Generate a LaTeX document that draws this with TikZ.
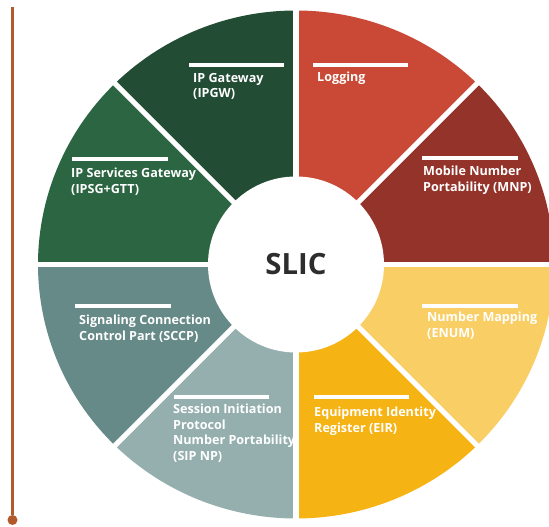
\documentclass[tikz,border=0pt]{standalone}
\usepackage{fontspec}
\setmainfont{Open Sans}
\definecolor{gwdark}{HTML}{224C34}
\definecolor{gwgreen}{HTML}{2C6542}
\definecolor{scteal}{HTML}{668A87}
\definecolor{sipgrey}{HTML}{95AFAF}
\definecolor{eiramber}{HTML}{F6B314}
\definecolor{enumyel}{HTML}{F9CE64}
\definecolor{mnpred}{HTML}{93332A}
\definecolor{logred}{HTML}{C94936}
\definecolor{rail}{HTML}{B35A2B}
\definecolor{hubtext}{HTML}{2D2D2D}

\begin{document}
\begin{tikzpicture}[x=0.03cm,y=0.03cm,
    gap/.style={white,line width=4.3pt},
    bar/.style={white,line width=2.6pt},
    lbl/.style={anchor=north west,inner sep=0pt,align=left,text=white,
        font=\bfseries\fontsize{10.75}{13.2}\selectfont}]
\useasboundingbox (0,0) rectangle (549,527);
\clip (0,0) rectangle (549,527);
\coordinate (c) at (296,262.5);
\foreach \a/\col in {0/mnpred,45/logred,90/gwdark,135/gwgreen,180/scteal,225/sipgrey,270/eiramber,315/enumyel}
    \fill[\col] (c) -- ++(\a:258 and 254) arc[start angle=\a,delta angle=45,x radius=258,y radius=254] -- cycle;
\foreach \a in {0,45,...,315}
    \draw[gap] (c) -- ++(\a:280);
\node[circle,fill=white,minimum size=5.28cm,inner sep=0pt,text=hubtext,
    font=\bfseries\fontsize{25}{30}\selectfont] (hub) at (c) {SLIC};

\node[lbl] (ipgw) at (193,454) {IP Gateway\\(IPGW)};
\node[lbl] (logging) at (317,455) {Logging};
\node[lbl] (ipsg) at (71,359) {IP Services Gateway\\(IPSG+GTT)};
\node[lbl] (mnp) at (423,361) {Mobile Number\\Portability (MNP)};
\node[lbl] (sccp) at (79,212) {Signaling Connection\\Control Part (SCCP)};
\node[lbl] (enum) at (427,215) {Number Mapping\\(ENUM)};
\node[lbl] (sipnp) at (173,123) {Session Initiation\\Protocol\\Number Portability\\(SIP NP)};
\node[lbl] (eir) at (314,120) {Equipment Identity\\Register (EIR)};

\draw[bar] (189,462) -- (284,462);
\draw[bar] (313,462) -- (408,462);
\draw[bar] (72,368) -- (168,368);
\draw[bar] (422,369) -- (518,369);
\draw[bar] (75,221) -- (171,221);
\draw[bar] (422,221) -- (518,221);
\draw[bar] (174,130) -- (269,130);
\draw[bar] (314,130) -- (409,130);

\coordinate (railtop) at (12.5,520);
\node[circle,fill=rail,minimum size=0.3cm,inner sep=0pt] (railend) at (12.5,7) {};
\draw[rail,line width=2.6pt] (railtop) -- (railend);
\end{tikzpicture}
\end{document}
